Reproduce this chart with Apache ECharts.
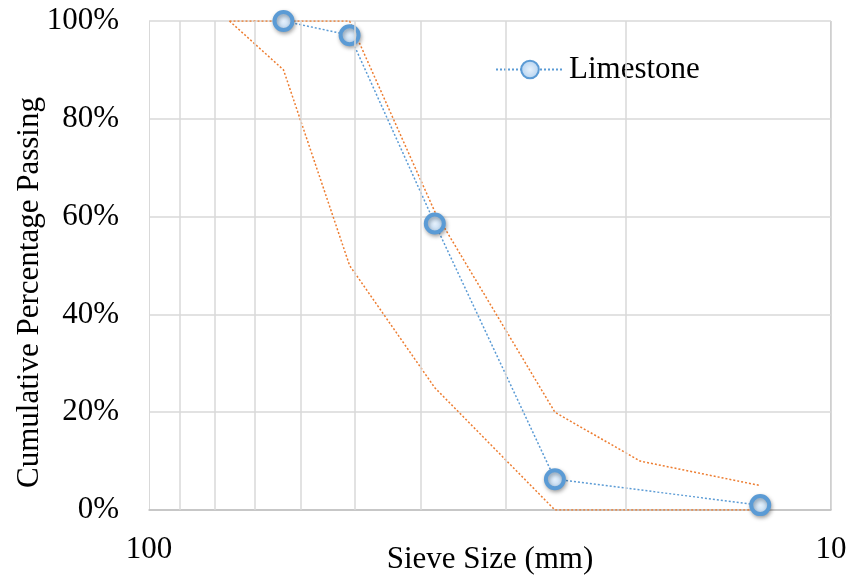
<!DOCTYPE html>
<html>
<head>
<meta charset="utf-8">
<script src="https://cdn.jsdelivr.net/npm/echarts@6/dist/echarts.min.js"></script>
<style>html,body{margin:0;padding:0;background:#fff;}#c{width:851px;height:578px;}</style>
</head>
<body>
<div id="c"></div>
<script>
// Sieve sizes (mm) and cumulative % passing
const limestoneSizes = [63.5, 50.8, 38.1, 25.4, 12.7];
const limestonePassing = [100, 97.1, 58.6, 6.3, 1.0];
const upperSizes = [76.2, 50.8, 38.1, 25.4, 19.05, 12.7];
const upperPassing = [100, 100, 61, 20, 10, 5];
const lowerSizes = [76.2, 63.5, 50.8, 38.1, 25.4, 12.7];
const lowerPassing = [100, 90, 50, 25, 0, 0];
const minorGridSizes = [90, 80, 70, 60, 50, 40, 30, 20];
const yTicks = [0, 20, 40, 60, 80, 100];

const zip = (a, b) => a.map((v, i) => [v, b[i]]);
const font = '"Liberation Serif", "Times New Roman", serif';
const blue = '#5b9bd5', orange = '#ed7d31';

const chart = echarts.init(document.getElementById('c'), null, {renderer: 'canvas'});
chart.setOption({
  animation: false,
  backgroundColor: '#fff',
  grid: {left: 149, right: 20, top: 21, bottom: 68, containLabel: false, outerBoundsMode: 'none'},
  legend: {
    data: ['Limestone'], left: 490, top: 49, itemWidth: 68, itemHeight: 22, itemGap: 10,
    textStyle: {fontFamily: font, fontSize: 31, color: '#000'}
  },
  xAxis: {
    type: 'log', logBase: 10, min: 10, max: 100, inverse: true,
    name: 'Sieve Size (mm)', nameLocation: 'middle', nameGap: 34, nameMoveOverlap: false,
    nameTextStyle: {fontFamily: font, fontSize: 31, color: '#000'},
    axisLine: {show: true, lineStyle: {color: '#bfbfbf', width: 1.5}},
    axisTick: {show: false},
    axisLabel: {fontFamily: font, fontSize: 31, color: '#000', margin: 24},
    splitLine: {show: true, lineStyle: {color: '#d9d9d9', width: 1}}
  },
  yAxis: {
    type: 'value', min: 0, max: 100, interval: 20,
    name: 'Cumulative Percentage Passing', nameLocation: 'middle', nameGap: 104, nameMoveOverlap: false,
    nameTextStyle: {fontFamily: font, fontSize: 31, color: '#000', padding: [0, 54, 0, 0]},
    axisLine: {show: false}, axisTick: {show: false},
    axisLabel: {fontFamily: font, fontSize: 31, color: '#000', margin: 30, formatter: '{value}%'},
    splitLine: {show: true, lineStyle: {color: '#d9d9d9', width: 1.5}}
  },
  series: [
    {
      name: 'gridlines', type: 'line', data: [], silent: true,
      markLine: {
        silent: true, symbol: ['none', 'none'], label: {show: false},
        lineStyle: {color: '#d9d9d9', width: 1.5, type: 'solid'},
        data: minorGridSizes.map(v => ({xAxis: v}))
      }
    },
    {
      name: 'Upper', type: 'line', data: zip(upperSizes, upperPassing), showSymbol: false,
      lineStyle: {color: orange, width: 1.5, type: [2, 2]}, z: 3
    },
    {
      name: 'Lower', type: 'line', data: zip(lowerSizes, lowerPassing), showSymbol: false,
      lineStyle: {color: orange, width: 1.5, type: [2, 2]}, z: 3
    },
    {
      name: 'Limestone', type: 'line', data: zip(limestoneSizes, limestonePassing),
      symbol: 'circle', symbolSize: 18, z: 4,
      lineStyle: {color: blue, width: 1.5, type: [2, 2]},
      itemStyle: {
        color: {type: 'radial', x: 0.5, y: 0.5, r: 0.6, colorStops: [{offset: 0, color: '#e6f1fc'}, {offset: 1, color: '#a9cbec'}]},
        borderColor: blue, borderWidth: 4,
        shadowColor: 'rgba(0,0,0,0.3)', shadowBlur: 4, shadowOffsetX: 1, shadowOffsetY: 2
      }
    }
  ],
  graphic: [
    {type: 'line', silent: true, shape: {x1: 831, y1: 21, x2: 831, y2: 510}, style: {stroke: '#bfbfbf', lineWidth: 1.5}}
  ]
});
</script>
</body>
</html>
